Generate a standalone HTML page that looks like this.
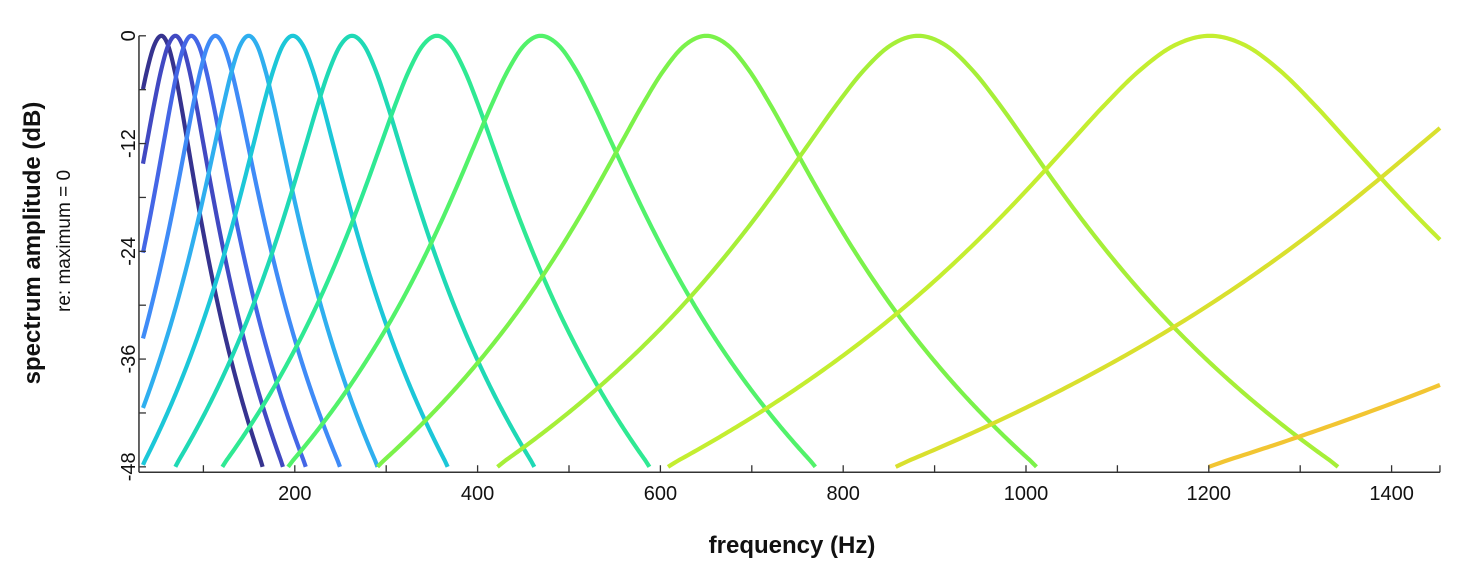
<!DOCTYPE html>
<html><head><meta charset="utf-8"><style>
html,body{margin:0;padding:0;background:#fff;}
svg{display:block;font-family:"Liberation Sans",Arial,sans-serif;}
</style></head><body>
<svg id="chart" width="1476" height="568" viewBox="0 0 1476 568">
<g id="curves"></g>
<g id="axes"></g>
<text x="792" y="553" text-anchor="middle" font-size="24" font-weight="bold" fill="#111">frequency (Hz)</text>
<text transform="translate(40,243) rotate(-90)" text-anchor="middle" font-size="24" font-weight="bold" fill="#111">spectrum amplitude (dB)</text>
<text transform="translate(70,241) rotate(-90)" text-anchor="middle" font-size="19" fill="#111">re: maximum = 0</text>
</svg>
<script>
// Data
const centerFreqs = [54.1, 69.4, 86.7, 113.0, 149.5, 197.8, 262.6, 355.5, 469.0, 650.2, 882.1, 1201.3, 1634.5, 2223.9];
const bwLeft  = [31.6, 31.5, 30.4, 32.4, 36.8, 42.9, 50.3, 61.1, 71.9, 93.6, 119.8, 154.3, 202.2, 266.4];
const bwRight = [28.8, 30.6, 32.6, 35.5, 36.7, 44.1, 51.9, 60.5, 78.2, 94.0, 119.5, 153.3, 202.2, 266.4];
const curveColors = ["#36338f","#4149c2","#4466e6","#3f8bf7","#2fafef","#1cc7d8","#1fd9b5","#2fe993","#52f26a","#7bf24a","#a6ef38","#c4ee30","#d9e02e","#f2c532"];
// normalized filter shape (offset in bandwidth units -> dB)
const shapeOffsets = [0,0.25,0.5,0.75,1,1.25,1.5,1.75,2,2.25,2.5,2.75,3,3.25,3.5,3.75,4];
const shapeDb = [0,-1.05,-3.88,-7.75,-12.04,-16.35,-20.48,-24.35,-27.96,-31.31,-34.41,-37.30,-40,-42.52,-44.89,-47.12,-49.22];
const xTicks = [100,200,300,400,500,600,700,800,900,1000,1100,1200,1300,1400,1452.9];
const xTickLabels = [200,400,600,800,1000,1200,1400];
const yTicks = [0,-6,-12,-18,-24,-30,-36,-42,-48];
const yTickLabels = [0,-12,-24,-36,-48];

const X0=112, XS=0.914, XMIN=29.5, XMAX=1452.9, FSTART=33.9;
const Y0=35.8, YS=8.98, YMIN=-48.6;
function xs(f){return X0+XS*f;}
function ys(d){return Y0-YS*d;}

function shapeAt(u){
  u=Math.abs(u);
  const n=shapeOffsets.length;
  if(u>=shapeOffsets[n-1]) return shapeDb[n-1];
  let i=0; while(i<n-2 && shapeOffsets[i+1]<u) i++;
  const t=(u-shapeOffsets[i])/(shapeOffsets[i+1]-shapeOffsets[i]);
  const p0=shapeDb[Math.max(0,i-1)], p1=shapeDb[i], p2=shapeDb[i+1], p3=shapeDb[Math.min(n-1,i+2)];
  const a = i===0 ? p2 : p0;
  const t2=t*t,t3=t2*t;
  return 0.5*((2*p1)+(-a+p2)*t+(2*a-5*p1+4*p2-p3)*t2+(-a+3*p1-3*p2+p3)*t3);
}

const curvesG=document.getElementById('curves');
const NS='http://www.w3.org/2000/svg';
centerFreqs.forEach((cf,i)=>{
  const pts=[];
  let prev=null;
  function ok(q){return q.d>=-48 && q.f>=FSTART && q.f<=XMAX;}
  function clipPt(out,inn){
    let t=1;
    if(out.d<-48) t=Math.min(t,(inn.d+48)/(inn.d-out.d));
    if(out.f<FSTART) t=Math.min(t,(inn.f-FSTART)/(inn.f-out.f));
    if(out.f>XMAX) t=Math.min(t,(XMAX-inn.f)/(out.f-inn.f));
    return {f:inn.f+(out.f-inn.f)*t,d:inn.d+(out.d-inn.d)*t};
  }
  for(let u=-4;u<=4.0001;u+=0.02){
    const f=cf+u*(u<0?bwLeft[i]:bwRight[i]);
    const cur={f:f,d:shapeAt(u)};
    const inside=ok(cur);
    if(prev){
      const pin=ok(prev);
      if(inside && !pin) pts.push(clipPt(prev,cur));
      if(!inside && pin) pts.push(clipPt(cur,prev));
    }
    if(inside) pts.push(cur);
    prev=cur;
  }
  if(!pts.length) return;
  const p=document.createElementNS(NS,'path');
  p.setAttribute('d',pts.map((q,k)=>(k?'L':'M')+xs(q.f).toFixed(2)+','+ys(q.d).toFixed(2)).join(''));
  p.setAttribute('fill','none');
  p.setAttribute('stroke',curveColors[i]);
  p.setAttribute('stroke-width','4.2');
  p.setAttribute('stroke-linejoin','round');
  
  
  curvesG.appendChild(p);
});

const ax=document.getElementById('axes');
function mk(tag,attrs,txt){const e=document.createElementNS(NS,tag);for(const k in attrs)e.setAttribute(k,attrs[k]);if(txt!==undefined)e.textContent=txt;ax.appendChild(e);return e;}
const xl=mk('line',{x1:xs(XMIN),x2:xs(XMAX),y1:ys(YMIN),y2:ys(YMIN),stroke:'#333','stroke-width':1.5});


const yl=mk('line',{x1:xs(XMIN),x2:xs(XMIN),y1:ys(0),y2:ys(YMIN),stroke:'#333','stroke-width':1.5});


xTicks.forEach(v=>{
  const t=mk('line',{x1:xs(v),x2:xs(v),y1:ys(YMIN),y2:ys(YMIN)-7,stroke:'#333','stroke-width':1.3});
  
  
});
xTickLabels.forEach(v=>{
  const t=mk('text',{x:xs(v),y:ys(YMIN)+28,'text-anchor':'middle','font-size':20,fill:'#111'},String(v));
  
  
});
yTicks.forEach(v=>{
  const t=mk('line',{x1:xs(XMIN),x2:xs(XMIN)+7,y1:ys(v),y2:ys(v),stroke:'#333','stroke-width':1.3});
  
  
});
yTickLabels.forEach(v=>{
  const t=mk('text',{transform:'translate(135,'+ys(v)+') rotate(-90)','text-anchor':'middle','font-size':20,fill:'#111'},String(v));
  
  
});
</script>
</body></html>
